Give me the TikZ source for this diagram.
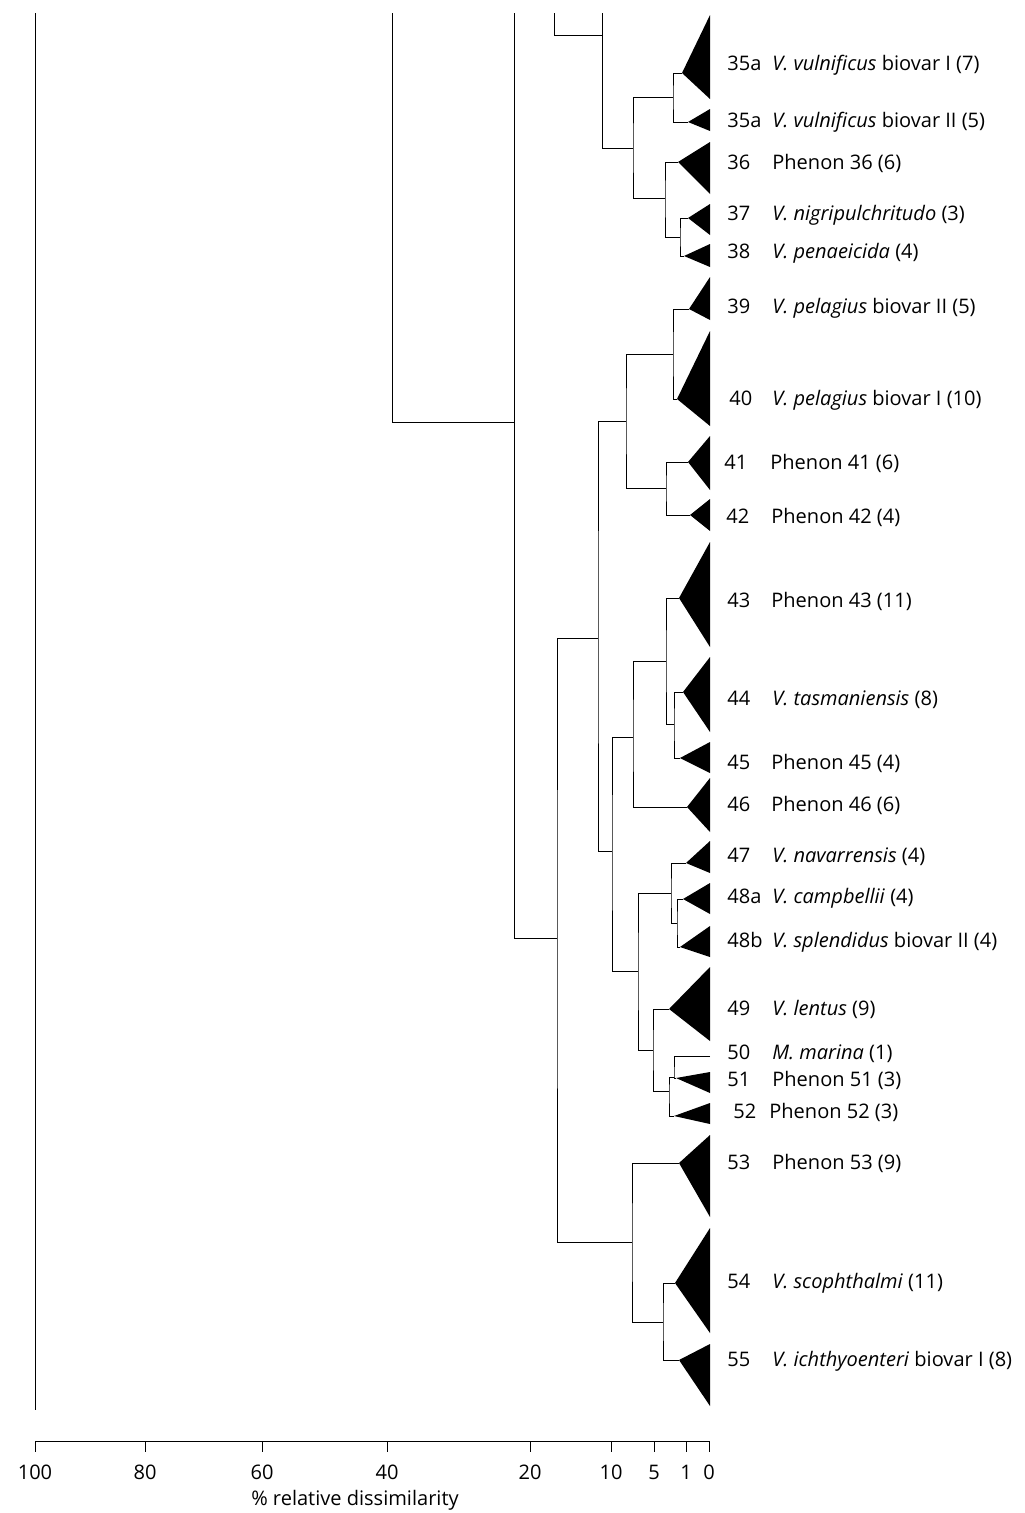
\documentclass[tikz,border=0pt]{standalone}
\usepackage{fontspec}
\setmainfont{Open Sans}
\usepackage{tikz}

\begin{document}
\begin{tikzpicture}[x=0.2mm,y=-0.2mm,
    branch/.style={line width=0.5pt},
    clade/.style={fill=black},
    num/.style={anchor=base west,inner sep=0pt},
    taxon/.style={anchor=base west,inner sep=0pt},
    ticklab/.style={anchor=base,inner sep=0pt}]
  \fontsize{11.4}{13}\selectfont
  \useasboundingbox (0,0) rectangle (1024,1513);

  \coordinate (t0) at (35,13);
  \coordinate (b0) at (35,1410);
  \coordinate (t3) at (392,13);
  \coordinate (t4) at (514,13);
  \coordinate (t1) at (554,13);
  \coordinate (t2) at (602,13);
  \coordinate (k35) at (602,35);
  \coordinate (k422) at (514,422);

  \coordinate (n1) at (633,148);
  \coordinate (n2) at (673,97);
  \coordinate (n3) at (665,198);
  \coordinate (n4) at (680,237);
  \coordinate (n6) at (557,938);
  \coordinate (n7) at (598,638);
  \coordinate (n8) at (632,1242);
  \coordinate (n9) at (626,421);
  \coordinate (n10) at (612,851);
  \coordinate (n11) at (673,354);
  \coordinate (n12) at (666,488);
  \coordinate (n13) at (633,737);
  \coordinate (n14) at (638,971);
  \coordinate (n15) at (666,661);
  \coordinate (n16) at (674,724);
  \coordinate (n17) at (671,893);
  \coordinate (n18) at (653,1050);
  \coordinate (n19) at (677,923);
  \coordinate (n20) at (669,1091);
  \coordinate (n21) at (674,1077);
  \coordinate (n22) at (663,1322);

  \coordinate (c35i) at (682,73);
  \coordinate (c35ii) at (688,122);
  \coordinate (c36) at (678,162);
  \coordinate (c37) at (688,218);
  \coordinate (c38) at (684,256);
  \coordinate (c39) at (689,309);
  \coordinate (c40) at (677,399);
  \coordinate (c41) at (688,462);
  \coordinate (c42) at (690,515);
  \coordinate (c43) at (679,598);
  \coordinate (c44) at (683,692);
  \coordinate (c45) at (680,758);
  \coordinate (c46) at (687,807);
  \coordinate (c47) at (686,863);
  \coordinate (c48a) at (683,899);
  \coordinate (c48b) at (680,947);
  \coordinate (c49) at (669,1009);
  \coordinate (c50) at (710,1056);
  \coordinate (c51) at (676,1078);
  \coordinate (c52) at (674,1116);
  \coordinate (c53) at (679,1163);
  \coordinate (c54) at (675,1283);
  \coordinate (c55) at (679,1360);

  \fill[clade] (c35i) -- (710,15) -- (710,99) -- cycle;
  \fill[clade] (c35ii) -- (710,109) -- (710,131) -- cycle;
  \fill[clade] (c36) -- (710,142) -- (710,194) -- cycle;
  \fill[clade] (c37) -- (710,204) -- (710,235) -- cycle;
  \fill[clade] (c38) -- (710,244) -- (710,267) -- cycle;
  \fill[clade] (c39) -- (710,277) -- (710,320) -- cycle;
  \fill[clade] (c40) -- (710,331) -- (710,426) -- cycle;
  \fill[clade] (c41) -- (710,436) -- (710,490) -- cycle;
  \fill[clade] (c42) -- (710,499) -- (710,531) -- cycle;
  \fill[clade] (c43) -- (710,542) -- (710,647) -- cycle;
  \fill[clade] (c44) -- (710,657) -- (710,732) -- cycle;
  \fill[clade] (c45) -- (710,742) -- (710,773) -- cycle;
  \fill[clade] (c46) -- (710,778) -- (710,832) -- cycle;
  \fill[clade] (c47) -- (710,841) -- (710,873) -- cycle;
  \fill[clade] (c48a) -- (710,883) -- (710,914) -- cycle;
  \fill[clade] (c48b) -- (710,926) -- (710,957) -- cycle;
  \fill[clade] (c49) -- (710,967) -- (710,1041) -- cycle;
  \fill[clade] (c51) -- (710,1072) -- (710,1093) -- cycle;
  \fill[clade] (c52) -- (710,1103) -- (710,1124) -- cycle;
  \fill[clade] (c53) -- (710,1135) -- (710,1217) -- cycle;
  \fill[clade] (c54) -- (710,1228) -- (710,1333) -- cycle;
  \fill[clade] (c55) -- (710,1344) -- (710,1406) -- cycle;

  \draw[branch] (t0) -- (b0);
  \draw[branch] (t3) |- (k422);
  \draw[branch] (t4) |- (n6);
  \draw[branch] (t1) |- (k35);
  \draw[branch] (t2) |- (n1);
  \draw[branch] (n2) -| (n1) |- (n3);
  \draw[branch] (c35i) -| (n2) |- (c35ii);
  \draw[branch] (c36) -| (n3) |- (n4);
  \draw[branch] (c37) -| (n4) |- (c38);
  \draw[branch] (n7) -| (n6) |- (n8);
  \draw[branch] (n9) -| (n7) |- (n10);
  \draw[branch] (n11) -| (n9) |- (n12);
  \draw[branch] (c39) -| (n11) |- (c40);
  \draw[branch] (c41) -| (n12) |- (c42);
  \draw[branch] (n13) -| (n10) |- (n14);
  \draw[branch] (n15) -| (n13) |- (c46);
  \draw[branch] (c43) -| (n15) |- (n16);
  \draw[branch] (c44) -| (n16) |- (c45);
  \draw[branch] (n17) -| (n14) |- (n18);
  \draw[branch] (c47) -| (n17) |- (n19);
  \draw[branch] (c48a) -| (n19) |- (c48b);
  \draw[branch] (c49) -| (n18) |- (n20);
  \draw[branch] (n21) -| (n20) |- (c52);
  \draw[branch] (c50) -| (n21) |- (c51);
  \draw[branch] (c53) -| (n8) |- (n22);
  \draw[branch] (c54) -| (n22) |- (c55);

  \node[num] (l35i) at (727,70) {35a};
  \node[taxon] (s35i) at (772,70) {\textit{V. vulnificus} biovar I (7)};
  \node[num] (l35ii) at (727,127) {35a};
  \node[taxon] (s35ii) at (772,127) {\textit{V. vulnificus} biovar II (5)};
  \node[num] (l36) at (727,169) {36};
  \node[taxon] (s36) at (772,169) {Phenon 36 (6)};
  \node[num] (l37) at (727,220) {37};
  \node[taxon] (s37) at (772,220) {\textit{V. nigripulchritudo} (3)};
  \node[num] (l38) at (727,258) {38};
  \node[taxon] (s38) at (772,258) {\textit{V. penaeicida} (4)};
  \node[num] (l39) at (727,313) {39};
  \node[taxon] (s39) at (772,313) {\textit{V. pelagius} biovar II (5)};
  \node[num] (l40) at (729,405) {40};
  \node[taxon] (s40) at (772,405) {\textit{V. pelagius} biovar I (10)};
  \node[num] (l41) at (724,469) {41};
  \node[taxon] (s41) at (770,469) {Phenon 41 (6)};
  \node[num] (l42) at (726,523) {42};
  \node[taxon] (s42) at (771,523) {Phenon 42 (4)};
  \node[num] (l43) at (727,607) {43};
  \node[taxon] (s43) at (771,607) {Phenon 43 (11)};
  \node[num] (l44) at (727,705) {44};
  \node[taxon] (s44) at (772,705) {\textit{V. tasmaniensis} (8)};
  \node[num] (l45) at (727,769) {45};
  \node[taxon] (s45) at (771,769) {Phenon 45 (4)};
  \node[num] (l46) at (727,811) {46};
  \node[taxon] (s46) at (771,811) {Phenon 46 (6)};
  \node[num] (l47) at (727,862) {47};
  \node[taxon] (s47) at (772,862) {\textit{V. navarrensis} (4)};
  \node[num] (l48a) at (727,903) {48a};
  \node[taxon] (s48a) at (772,903) {\textit{V. campbellii} (4)};
  \node[num] (l48b) at (727,947) {48b};
  \node[taxon] (s48b) at (772,947) {\textit{V. splendidus} biovar II (4)};
  \node[num] (l49) at (727,1015) {49};
  \node[taxon] (s49) at (772,1015) {\textit{V. lentus} (9)};
  \node[num] (l50) at (727,1059) {50};
  \node[taxon] (s50) at (772,1059) {\textit{M. marina} (1)};
  \node[num] (l51) at (727,1086) {51};
  \node[taxon] (s51) at (772,1086) {Phenon 51 (3)};
  \node[num] (l52) at (733,1118) {52};
  \node[taxon] (s52) at (769,1118) {Phenon 52 (3)};
  \node[num] (l53) at (727,1169) {53};
  \node[taxon] (s53) at (772,1169) {Phenon 53 (9)};
  \node[num] (l54) at (727,1288) {54};
  \node[taxon] (s54) at (772,1288) {\textit{V. scophthalmi} (11)};
  \node[num] (l55) at (727,1366) {55};
  \node[taxon] (s55) at (772,1366) {\textit{V. ichthyoenteri} biovar I (8)};

  \coordinate (a100) at (35,1441);
  \coordinate (a0) at (709,1441);
  \draw[branch] (a100) -- (a0);
  \foreach \x/\l in {35/100,145/80,262/60,387/40,530/20,611/10,654/5,686/1,709/0} {
    \draw[branch] (\x,1441) -- (\x,1452);
    \node[ticklab] (tk\l) at (\x,1479) {\l};
  }
  \node[anchor=base] (axtitle) at (355,1505) {\% relative dissimilarity};
\end{tikzpicture}
\end{document}
